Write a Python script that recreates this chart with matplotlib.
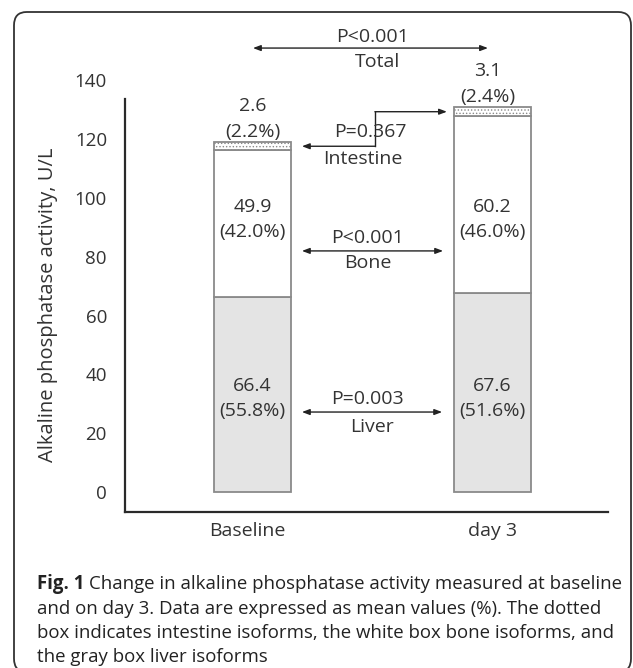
import matplotlib
matplotlib.use("Agg")
import matplotlib.pyplot as plt
from matplotlib.patches import FancyBboxPatch
import numpy as np

# ---- data ----
groups = ["Baseline", "day 3"]
liver = [66.4, 67.6]
bone = [49.9, 60.2]
intestine = [2.6, 3.1]
liver_pct = ["(55.8%)", "(51.6%)"]
bone_pct = ["(42.0%)", "(46.0%)"]
int_pct = ["(2.2%)", "(2.4%)"]
yticks = [0, 20, 40, 60, 80, 100, 120, 140]
pvals = {"Total": "P<0.001", "Intestine": "P=0.367", "Bone": "P<0.001", "Liver": "P=0.003"}

W, H = 633, 668
DPI = 100
plt.rcParams['font.family'] = ['Open Sans', 'DejaVu Sans']
TXT = '#333333'

fig = plt.figure(figsize=(W / DPI, H / DPI), dpi=DPI)

# border box
fig.patches.append(FancyBboxPatch((14 / W, 1 - 672 / H), (631 - 14) / W, (672 - 12) / H,
                                  boxstyle="round,pad=0,rounding_size=0.02",
                                  transform=fig.transFigure, fill=False,
                                  edgecolor='#333333', linewidth=1.3))

# axes in pixel coordinates
ax_left, ax_right, ax_bottom, ax_top = 125, 608, 512, 20
ax = fig.add_axes([ax_left / W, 1 - ax_bottom / H, (ax_right - ax_left) / W, (ax_bottom - ax_top) / H])
ax.patch.set_visible(False)
ppu = 2.94          # pixels per unit
y0 = 492            # pixel of value 0
ax.set_ylim(-(ax_bottom - y0) / ppu, (y0 - ax_top) / ppu)
xc0 = 252.5
ppx = 240
ax.set_xlim(-(xc0 - ax_left) / ppx, (ax_right - xc0) / ppx)

x = np.arange(len(groups))
bw = 0.32
edge = '#8a8a8a'
ax.bar(x, liver, bw, color='#e4e4e4', edgecolor=edge, linewidth=1.3)
ax.bar(x, bone, bw, bottom=liver, color='white', edgecolor=edge, linewidth=1.3)
plt.rcParams['hatch.linewidth'] = 0.6
plt.rcParams['hatch.color'] = '#9a9a9a'
bot2 = np.array(liver) + np.array(bone)
ax.bar(x, intestine, bw, bottom=bot2, color='white', edgecolor=edge, linewidth=1.3, hatch='.....')

for s in ['top', 'right']:
    ax.spines[s].set_visible(False)
for s in ['left', 'bottom']:
    ax.spines[s].set_linewidth(1.6)
    ax.spines[s].set_color('#2a2a2a')
ax.spines['left'].set_bounds(ax.get_ylim()[0], (y0 - 99) / ppu)
ax.set_yticks(yticks)
ax.set_yticklabels([str(t) for t in yticks])
ax.set_xticks(x - np.array([0.02, 0.0]))
ax.set_xticklabels(groups)
ax.tick_params(axis='y', length=0, pad=13, labelsize=13.5, labelcolor=TXT)
ax.tick_params(axis='x', length=0, pad=7, labelsize=14, labelcolor=TXT)

fig.text(48 / W, 1 - 305 / H, "Alkaline phosphatase activity, U/L", rotation=90,
         ha='center', va='center', fontsize=14.5, color=TXT)

fs = 14
# segment labels
for i in range(2):
    ax.text(x[i], 97, f"{bone[i]}", ha='center', va='center', fontsize=fs, color=TXT)
    ax.text(x[i], 88.6, bone_pct[i], ha='center', va='center', fontsize=fs, color=TXT)
    ax.text(x[i], 36.1, f"{liver[i]}", ha='center', va='center', fontsize=fs, color=TXT)
    ax.text(x[i], 27.6, liver_pct[i], ha='center', va='center', fontsize=fs, color=TXT)
tot = bot2 + np.array(intestine)
for i in range(2):
    ax.text(x[i] - 0.02 * i, tot[i] + 12.3, f"{intestine[i]}", ha='center', va='center', fontsize=fs, color=TXT)
    ax.text(x[i] - 0.02 * i, tot[i] + 3.5, int_pct[i], ha='center', va='center', fontsize=fs, color=TXT)

akw = dict(arrowstyle='<|-|>,head_length=0.45,head_width=0.17', color='#222222', lw=1.0,
           shrinkA=0, shrinkB=0)
# total
ax.annotate('', xy=(0.002, 151), xytext=(0.981, 151), arrowprops=akw, annotation_clip=False)
ax.text(0.50, 154.6, pvals["Total"], ha='center', va='center', fontsize=fs, color=TXT)
ax.text(0.52, 146.3, "Total", ha='center', va='center', fontsize=fs, color=TXT)
# bone
ax.annotate('', xy=(0.206, 82), xytext=(0.794, 82), arrowprops=akw)
ax.text(0.48, 86.4, pvals["Bone"], ha='center', va='center', fontsize=fs, color=TXT)
ax.text(0.48, 77.9, "Bone", ha='center', va='center', fontsize=fs, color=TXT)
# liver
ax.annotate('', xy=(0.206, 27.2), xytext=(0.79, 27.2), arrowprops=akw)
ax.text(0.48, 31.6, pvals["Liver"], ha='center', va='center', fontsize=fs, color=TXT)
ax.text(0.50, 22.1, "Liver", ha='center', va='center', fontsize=fs, color=TXT)
# intestine elbow
yl = liver[0] + bone[0] + intestine[0] / 2
yr = liver[1] + bone[1] + intestine[1] / 2
ahk = dict(arrowstyle='-|>,head_length=0.45,head_width=0.17', color='#222222', lw=1.0,
           shrinkA=0, shrinkB=0)
ax.annotate('', xy=(0.206, yl), xytext=(0.51, yl), arrowprops=ahk)
ax.plot([0.51, 0.51], [yl, yr], color='#222222', lw=1.0)
ax.annotate('', xy=(0.81, yr), xytext=(0.51, yr), arrowprops=ahk)
ax.text(0.49, 122.4, pvals["Intestine"], ha='center', va='center', fontsize=fs, color=TXT)
ax.text(0.46, 113.3, "Intestine", ha='center', va='center', fontsize=fs, color=TXT)

# caption
cap_lines = ["Change in alkaline phosphatase activity measured at baseline",
             "and on day 3. Data are expressed as mean values (%). The dotted",
             "box indicates intestine isoforms, the white box bone isoforms, and",
             "the gray box liver isoforms"]
cfs = 13.4
cx = 37 / W
cy = [584, 609, 633, 657]
fig.canvas.draw()
r = fig.canvas.get_renderer()
tb = fig.text(cx, 1 - cy[0] / H, "Fig. 1", fontsize=cfs, fontweight='bold', color='#222222', va='center')
bb = tb.get_window_extent(renderer=r)
space = 5
fig.text((bb.x1 + space) / W, 1 - cy[0] / H, cap_lines[0], fontsize=cfs, color='#222222', va='center')
for ln, yy in zip(cap_lines[1:], cy[1:]):
    fig.text(cx, 1 - yy / H, ln, fontsize=cfs, color='#222222', va='center')

fig.savefig("out.png", dpi=DPI)
